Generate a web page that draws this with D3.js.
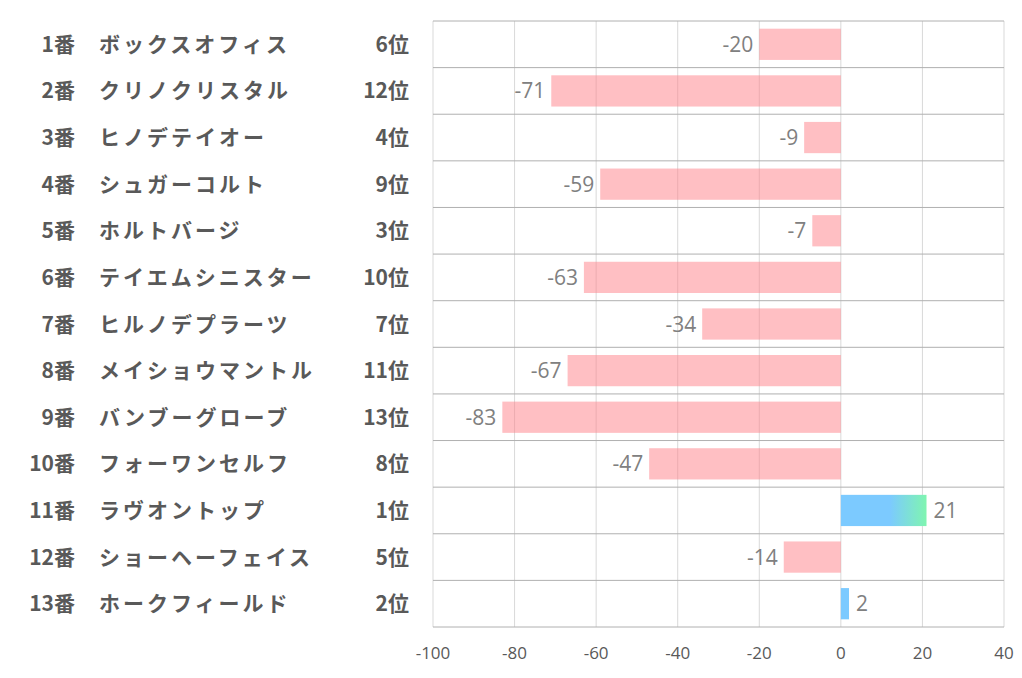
<!DOCTYPE html>
<html><head><meta charset="utf-8">
<script src="https://cdn.jsdelivr.net/npm/d3@7"></script>
<style>body{margin:0;background:#fff}</style>
</head><body>
<svg id="c" width="1022" height="678"></svg>
<script>
const numbers = ["1番","2番","3番","4番","5番","6番","7番","8番","9番","10番","11番","12番","13番"];
const names = ["ボックスオフィス","クリノクリスタル","ヒノデテイオー","シュガーコルト","ホルトバージ","テイエムシニスター","ヒルノデプラーツ","メイショウマントル","バンブーグローブ","フォーワンセルフ","ラヴオントップ","ショーヘーフェイス","ホークフィールド"];
const ranks = ["6位","12位","4位","9位","3位","10位","7位","11位","13位","8位","1位","5位","2位"];
const values = [-20,-71,-9,-59,-7,-63,-34,-67,-83,-47,21,-14,2];
const ticks = [-100,-80,-60,-40,-20,0,20,40];

(function(){
const svg = d3.select("#c");
const pLeft=433, pRight=1004, pTop=21, pBottom=627;
const x = d3.scaleLinear().domain([-100,40]).range([pLeft,pRight]);
const y = d3.scaleBand().domain(d3.range(values.length)).range([pTop,pBottom]).paddingInner(0.33).paddingOuter(0.165);
const rowH = (pBottom-pTop)/values.length;

const defs = svg.append("defs");
const g = defs.append("linearGradient").attr("id","pos").attr("gradientUnits","userSpaceOnUse")
  .attr("x1",x(12)).attr("x2",x(21)).attr("y1",0).attr("y2",0);
g.append("stop").attr("offset","0").attr("stop-color","#7ccaff");
g.append("stop").attr("offset","1").attr("stop-color","#7ff5b0");

svg.append("g").selectAll("line").data(ticks).join("line")
  .attr("x1",d=>x(d)).attr("x2",d=>x(d)).attr("y1",pTop).attr("y2",pBottom)
  .attr("stroke","#d9d9d9").attr("stroke-width",1);
svg.append("g").selectAll("line").data(d3.range(values.length+1)).join("line")
  .attr("x1",pLeft).attr("x2",pRight).attr("y1",i=>pTop+i*rowH).attr("y2",i=>pTop+i*rowH)
  .attr("stroke","#b0b0b0").attr("stroke-width",1);

svg.append("g").selectAll("rect").data(values).join("rect")
  .attr("x",d=>x(Math.min(0,d))).attr("width",d=>Math.abs(x(d)-x(0)))
  .attr("y",(d,i)=>y(i)).attr("height",y.bandwidth())
  .attr("fill",d=>d<0?"#ff8088":"url(#pos)")
  .attr("fill-opacity",d=>d<0?0.5:1);

svg.append("g").selectAll("text").data(values).join("text")
  .attr("x",d=>d<0?x(d)-6:x(d)+7)
  .attr("y",(d,i)=>y(i)+y.bandwidth()/2)
  .attr("dy","0.36em")
  .attr("text-anchor",d=>d<0?"end":"start")
  .attr("font-family","'Open Sans', 'Noto Sans', sans-serif")
  .attr("font-size",21).attr("fill","#808080")
  .text(d=>d);

svg.append("g").selectAll("text").data(ticks).join("text")
  .attr("x",d=>x(d)).attr("y",659).attr("text-anchor","middle")
  .attr("font-family","'Open Sans', 'Noto Sans', sans-serif")
  .attr("font-size",17).attr("fill","#595959").text(d=>d);

const lab = svg.append("g").attr("font-family","'Noto Sans CJK JP', sans-serif")
  .attr("font-weight","bold").attr("font-size",21).attr("fill","#595959");
lab.selectAll(".n").data(numbers).join("text").attr("class","n")
  .attr("x",75).attr("y",(d,i)=>pTop+(i+0.5)*rowH).attr("dy","0.36em")
  .attr("text-anchor","end").text(d=>d);
lab.selectAll(".m").data(names).join("text").attr("class","m")
  .attr("x",99).attr("y",(d,i)=>pTop+(i+0.5)*rowH).attr("dy","0.36em")
  .attr("letter-spacing",3).text(d=>d);
lab.selectAll(".r").data(ranks).join("text").attr("class","r")
  .attr("x",409).attr("y",(d,i)=>pTop+(i+0.5)*rowH).attr("dy","0.36em")
  .attr("text-anchor","end").text(d=>d);
})();
</script>
</body></html>
